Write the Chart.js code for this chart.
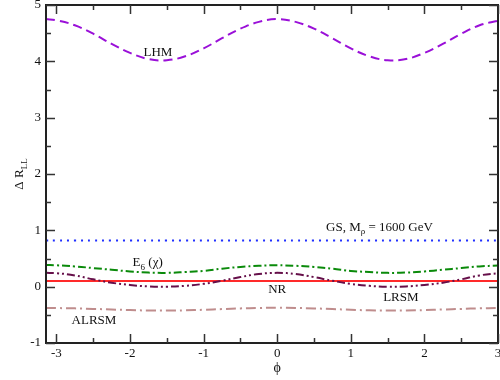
<!DOCTYPE html>
<html>
<head>
<meta charset="utf-8">
<script src="https://cdn.jsdelivr.net/npm/chart.js@4/dist/chart.umd.min.js"></script>
<style>
  html, body { margin: 0; padding: 0; background: #fff; }
  canvas { display: block; }
</style>
</head>
<body>
<canvas id="c" width="500" height="380"></canvas>
<script>
// azimuthal angle samples
const phi = [-3.1416, -3.0, -2.75, -2.5, -2.25, -2.0, -1.75, -1.5, -1.25, -1.0, -0.75, -0.5, -0.25,
             0, 0.25, 0.5, 0.75, 1.0, 1.25, 1.5, 1.75, 2.0, 2.25, 2.5, 2.75, 3.0];

// Delta R_LL for each model
const lhm   = [4.75, 4.73, 4.64, 4.49, 4.31, 4.15, 4.04, 4.02, 4.09, 4.23, 4.41, 4.58, 4.70,
               4.75, 4.70, 4.58, 4.41, 4.23, 4.09, 4.02, 4.04, 4.15, 4.31, 4.49, 4.64, 4.72];
const gs    = [0.82, 0.82, 0.82, 0.82, 0.82, 0.82, 0.82, 0.82, 0.82, 0.82, 0.82, 0.82, 0.82,
               0.82, 0.82, 0.82, 0.82, 0.82, 0.82, 0.82, 0.82, 0.82, 0.82, 0.82, 0.82, 0.82];
const e6    = [0.385, 0.38, 0.36, 0.33, 0.30, 0.27, 0.25, 0.245, 0.26, 0.28, 0.32, 0.35, 0.37,
               0.38, 0.37, 0.35, 0.32, 0.28, 0.26, 0.245, 0.25, 0.27, 0.30, 0.33, 0.36, 0.375];
const lrsm  = [0.245, 0.24, 0.20, 0.13, 0.07, 0.03, 0.005, 0.0, 0.015, 0.05, 0.105, 0.17, 0.225,
               0.245, 0.225, 0.17, 0.105, 0.05, 0.015, 0.0, 0.005, 0.03, 0.07, 0.13, 0.20, 0.24];
const nr    = [0.1, 0.1, 0.1, 0.1, 0.1, 0.1, 0.1, 0.1, 0.1, 0.1, 0.1, 0.1, 0.1,
               0.1, 0.1, 0.1, 0.1, 0.1, 0.1, 0.1, 0.1, 0.1, 0.1, 0.1, 0.1, 0.1];
const alrsm = [-0.38, -0.38, -0.385, -0.395, -0.405, -0.416, -0.423, -0.425, -0.42, -0.41, -0.398, -0.386, -0.378,
               -0.375, -0.378, -0.386, -0.398, -0.41, -0.42, -0.425, -0.423, -0.416, -0.405, -0.395, -0.385, -0.38];

// tick values
const xMajor = [-3, -2, -1, 0, 1, 2, 3];
const xMinor = [-2.5, -1.5, -0.5, 0.5, 1.5, 2.5];
const yMajor = [-1, 0, 1, 2, 3, 4, 5];
const yMinor = [-0.5, 0.5, 1.5, 2.5, 3.5, 4.5];

// curve labels: parts of text (sub = subscript), anchored at data coordinates
const notes = [
  { parts: [{ t: 'LHM' }], x: -1.62, y: 4.15 },
  { parts: [{ t: 'GS, M' }, { t: 'ρ', sub: true }, { t: ' = 1600 GeV' }], x: 1.39, y: 1.05 },
  { parts: [{ t: 'E' }, { t: '6', sub: true }, { t: ' (χ)' }], x: -1.76, y: 0.42 },
  { parts: [{ t: 'NR' }], x: 0.0, y: -0.05 },
  { parts: [{ t: 'LRSM' }], x: 1.68, y: -0.2 },
  { parts: [{ t: 'ALRSM' }], x: -2.49, y: -0.6 }
];

const SERIF = '"Liberation Serif", "Times New Roman", "DejaVu Serif", serif';

function pts(ys) { return phi.map((p, i) => ({ x: p, y: ys[i] })); }

function series(label, ys, color, dash, width) {
  return {
    label, data: pts(ys), borderColor: color, backgroundColor: color,
    borderDash: dash, borderWidth: width || 2, showLine: true,
    pointRadius: 0, tension: 0.4, fill: false, borderCapStyle: 'butt'
  };
}

// draws text made of normal and subscript parts, centred on (cx, cy)
function drawParts(ctx, parts, cx, cy, size) {
  const main = size + 'px ' + SERIF;
  const small = Math.round(size * 0.72) + 'px ' + SERIF;
  let total = 0;
  const widths = parts.map(p => { ctx.font = p.sub ? small : main; const w = ctx.measureText(p.t).width; total += w; return w; });
  let x = cx - total / 2;
  ctx.textBaseline = 'middle';
  ctx.textAlign = 'left';
  parts.forEach((p, i) => {
    ctx.font = p.sub ? small : main;
    ctx.fillText(p.t, x, p.sub ? cy + size * 0.35 : cy);
    x += widths[i];
  });
}

const framePlugin = {
  id: 'frame',
  afterDatasetsDraw(chart) {
    const { ctx, chartArea: a, scales: { x, y } } = chart;
    ctx.save();
    ctx.strokeStyle = '#222';
    ctx.lineWidth = 2;
    ctx.strokeRect(a.left, a.top, a.right - a.left, a.bottom - a.top);
    ctx.lineWidth = 1.5;
    ctx.strokeStyle = '#333';
    ctx.beginPath();
    const xt = (v, len) => {
      const px = Math.round(x.getPixelForValue(v)) + 0.5;
      ctx.moveTo(px, a.bottom); ctx.lineTo(px, a.bottom - len);
      ctx.moveTo(px, a.top); ctx.lineTo(px, a.top + len);
    };
    const yt = (v, len) => {
      const py = Math.round(y.getPixelForValue(v)) + 0.5;
      ctx.moveTo(a.left, py); ctx.lineTo(a.left + len, py);
      ctx.moveTo(a.right, py); ctx.lineTo(a.right - len, py);
    };
    xMajor.forEach(v => xt(v, 9));
    xMinor.forEach(v => xt(v, 5));
    yMajor.forEach(v => yt(v, 9));
    yMinor.forEach(v => yt(v, 5));
    ctx.stroke();

    // curve labels
    ctx.fillStyle = '#111';
    notes.forEach(n => drawParts(ctx, n.parts, x.getPixelForValue(n.x), y.getPixelForValue(n.y), 13));

    // axis titles
    ctx.font = '14px ' + SERIF;
    ctx.textAlign = 'center';
    ctx.textBaseline = 'middle';
    ctx.fillText('ϕ', x.getPixelForValue(0), 368);
    ctx.save();
    ctx.translate(20, (a.top + a.bottom) / 2);
    ctx.rotate(-Math.PI / 2);
    drawParts(ctx, [{ t: 'Δ R' }, { t: 'LL', sub: true }], 0, 0, 13);
    ctx.restore();
    ctx.restore();
  }
};

new Chart(document.getElementById('c'), {
  type: 'scatter',
  data: {
    datasets: [
      series('LHM', lhm, '#9a10d8', [9, 5]),
      series('GS', gs, '#1f2fff', [2, 5]),
      series('E6', e6, '#0a8a0a', [8, 3, 2, 3]),
      series('LRSM', lrsm, '#66104a', [8, 3, 2, 3, 2, 3]),
      series('NR', nr, '#ff2a2a', []),
      series('ALRSM', alrsm, '#bf8d8d', [10, 4, 2, 4])
    ]
  },
  options: {
    responsive: false,
    animation: false,
    devicePixelRatio: 1,
    layout: { padding: { top: 5, right: 2, left: 0, bottom: 0 } },
    plugins: { legend: { display: false }, tooltip: { enabled: false } },
    scales: {
      x: {
        type: 'linear', min: -3.1416, max: 3.0,
        border: { display: false },
        grid: { display: false, drawTicks: false },
        afterBuildTicks: s => { s.ticks = xMajor.map(v => ({ value: v })); },
        afterFit: s => { s.height = 37; s.paddingLeft = 0; s.paddingRight = 0; },
        ticks: { color: '#111', padding: 3, maxRotation: 0, autoSkip: false,
                 font: { family: SERIF, size: 13 }, callback: v => String(v) }
      },
      y: {
        type: 'linear', min: -1, max: 5,
        border: { display: false },
        grid: { display: false, drawTicks: false },
        afterBuildTicks: s => { s.ticks = yMajor.map(v => ({ value: v })); },
        afterFit: s => { s.width = 46; s.paddingTop = 0; s.paddingBottom = 0; },
        ticks: { color: '#111', padding: 5, font: { family: SERIF, size: 13 }, callback: v => String(v) }
      }
    }
  },
  plugins: [framePlugin]
});
</script>
</body>
</html>
